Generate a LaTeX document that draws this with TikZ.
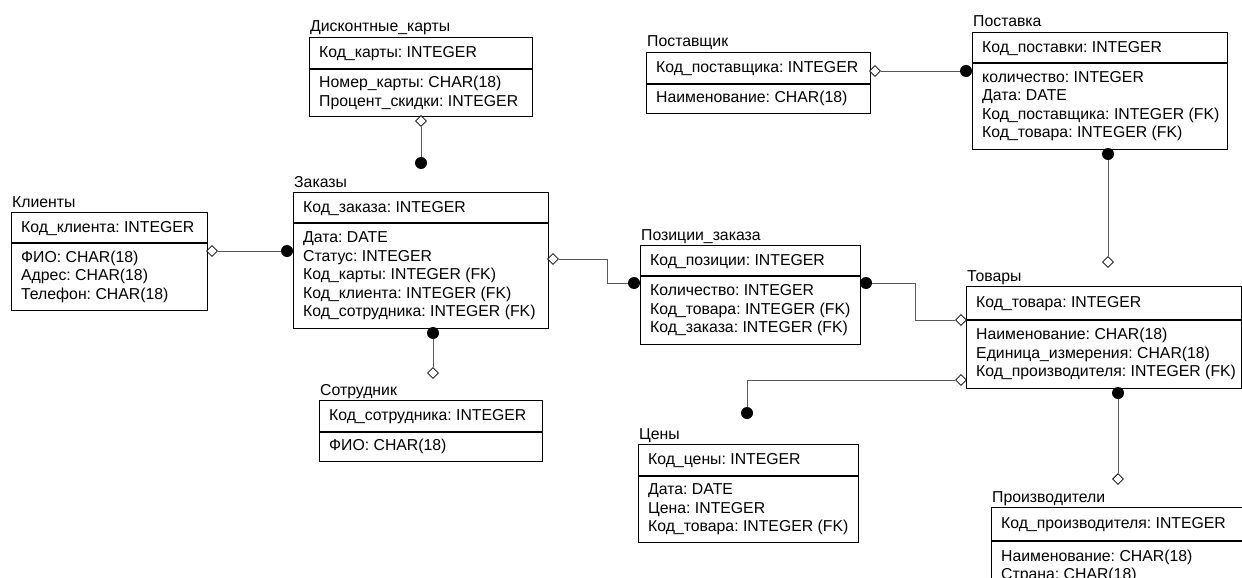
\documentclass[tikz,border=0pt]{standalone}
\usepackage{fontspec}
\setmainfont{Liberation Sans}
\usetikzlibrary{shapes.geometric}
\frenchspacing
\tikzset{
  erfont/.style={font=\fontsize{15.8}{18.5}\selectfont},
  boxst/.style={draw=black, line width=0.9pt, rectangle, anchor=north west, inner sep=0pt},
  txt/.style={anchor=west, inner sep=0pt, align=left, erfont},
  ertitle/.style={anchor=base west, inner sep=0pt, erfont},
  dm/.style={diamond, draw=black, fill=white, line width=0.8pt, inner sep=0pt, minimum width=11pt, minimum height=11pt},
  dot/.style={circle, fill=black, inner sep=0pt, minimum size=12pt},
  conn/.style={draw=black!65, line width=0.8pt},
}
\newcommand{\erent}[9]{%
  \node[boxst, minimum width=#4pt, minimum height=#5pt] (#1k) at (#2,-#3) {};
  \node[boxst, minimum width=#4pt, minimum height=#6pt] (#1a) at (#1k.south west) {};
  \node[txt] (#1kt) at ([xshift=10pt,yshift=-1pt]#1k.west) {#8};
  \node[txt] (#1at) at ([xshift=10pt]#1a.west) {#9};
  \node[ertitle] (#1t) at ([xshift=1pt,yshift=5pt]#1k.north west) {#7};
}
\begin{document}
\begin{tikzpicture}[x=1pt,y=1pt]
\useasboundingbox (0,0) rectangle (1242,-578);
\clip (0,0) rectangle (1242,-578);
\fill[white] (0,0) rectangle (1242,-578);

\erent{kl}{11}{212}{196}{30}{67}{Клиенты}{Код\_клиента: INTEGER}{ФИО: CHAR(18)\\Адрес: CHAR(18)\\Телефон: CHAR(18)}
\erent{dk}{309}{37}{223}{31}{47}{Дисконтные\_карты}{Код\_карты: INTEGER}{Номер\_карты: CHAR(18)\\Процент\_скидки: INTEGER}
\erent{zk}{293}{192}{255}{30}{105}{Заказы}{Код\_заказа: INTEGER}{Дата: DATE\\Статус: INTEGER\\Код\_карты: INTEGER (FK)\\Код\_клиента: INTEGER (FK)\\Код\_сотрудника: INTEGER (FK)}
\erent{so}{319}{400}{223}{31}{29}{Сотрудник}{Код\_сотрудника: INTEGER}{ФИО: CHAR(18)}
\erent{pt}{646}{52}{224}{31}{29}{Поставщик}{Код\_поставщика: INTEGER}{Наименование: CHAR(18)}
\erent{pk}{972}{32}{255}{30}{86}{Поставка}{Код\_поставки: INTEGER}{количество: INTEGER\\Дата: DATE\\Код\_поставщика: INTEGER (FK)\\Код\_товара: INTEGER (FK)}
\erent{pz}{640}{245}{220}{30}{68}{Позиции\_заказа}{Код\_позиции: INTEGER}{Количество: INTEGER\\Код\_товара: INTEGER (FK)\\Код\_заказа: INTEGER (FK)}
\erent{tv}{966}{286}{275}{33}{68}{Товары}{Код\_товара: INTEGER}{Наименование: CHAR(18)\\Единица\_измерения: CHAR(18)\\Код\_производителя: INTEGER (FK)}
\erent{cn}{638}{444}{220}{31}{66}{Цены}{Код\_цены: INTEGER}{Дата: DATE\\Цена: INTEGER\\Код\_товара: INTEGER (FK)}
\erent{pr}{991}{507}{256}{33}{50}{Производители}{Код\_производителя: INTEGER}{Наименование: CHAR(18)\\Страна: CHAR(18)}

% bend coordinates
\coordinate (b1) at (607,0);
\coordinate (b2) at (915,0);

% ends
\node[dm]  (kldm) at (212,-251) {};
\node[dot] (zkd1) at (287,-251) {};
\node[dm]  (dkdm) at (421,-121) {};
\node[dot] (zkd2) at (421,-163) {};
\node[dot] (zkd3) at (433,-333) {};
\node[dm]  (sodm) at (433,-373) {};
\node[dm]  (zkdm) at (553,-259) {};
\node[dot] (pzd1) at (634,-283) {};
\node[dot] (pzd2) at (866,-283) {};
\node[dm]  (tvdm1) at (961,-320) {};
\node[dm]  (ptdm) at (875,-71) {};
\node[dot] (pkd1) at (966,-71) {};
\node[dot] (pkd2) at (1108,-154) {};
\node[dm]  (tvdm2) at (1108,-262) {};
\node[dm]  (tvdm3) at (961,-380) {};
\node[dot] (cnd) at (747,-413) {};
\node[dot] (tvd) at (1118,-393) {};
\node[dm]  (prdm) at (1118,-479) {};

% connectors
\draw[conn] (kldm) -- (zkd1);
\draw[conn] (dkdm) -- (zkd2);
\draw[conn] (zkd3) -- (sodm);
\draw[conn] (zkdm.east) -- (zkdm.east -| b1) -- (b1 |- pzd1) -- (pzd1);
\draw[conn] (pzd2) -- (pzd2 -| b2) -- (b2 |- tvdm1) -- (tvdm1.west);
\draw[conn] (ptdm) -- (pkd1);
\draw[conn] (pkd2) -- (tvdm2);
\draw[conn] (tvdm3.west) -| (cnd);
\draw[conn] (tvd) -- (prdm);
\end{tikzpicture}
\end{document}
